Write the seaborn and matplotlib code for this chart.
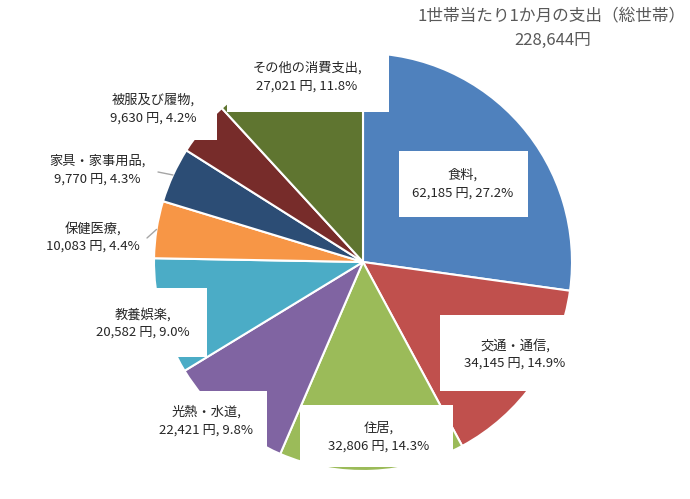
import matplotlib
matplotlib.use("Agg")
import matplotlib.pyplot as plt
from matplotlib.patches import Rectangle
import numpy as np
import seaborn as sns

# ---- data ----
categories = ["食料", "交通・通信", "住居", "光熱・水道", "教養娯楽",
              "保健医療", "家具・家事用品", "被服及び履物", "その他の消費支出"]
values = [62185, 34145, 32806, 22421, 20582, 10083, 9770, 9630, 27021]
total_label = "228,644円"
title_text = "1世帯当たり1か月の支出（総世帯）"
colors = ["#4F81BD", "#C0504D", "#9BBB59", "#8064A2", "#4BACC6",
          "#F79646", "#2C4D75", "#772C2A", "#5F7530"]

sns.set_theme(style="white")
plt.rcParams["font.family"] = ["Noto Sans CJK JP", "DejaVu Sans"]

W, H = 690, 499
fig = plt.figure(figsize=(6.9, 4.99), dpi=100)
ax = fig.add_axes([0, 0, 1, 1])

cx, cy, R = 363, H - 262, 209
wedges, _ = ax.pie(values, colors=sns.color_palette(colors), startangle=90,
                   counterclock=False, center=(cx, cy), radius=R,
                   wedgeprops=dict(edgecolor="white", linewidth=1.5))
ax.set_xlim(0, W)
ax.set_ylim(0, H)
ax.set_aspect("auto")
ax.axis("off")

total = sum(values)
labels = [f"{c},\n{v:,} 円, {v / total * 100:.1f}%" for c, v in zip(categories, values)]

# layout (pixel coords from top-left): box (x0, y0, x1, y1) or None, text center
layout = {
    "食料": ((399, 151, 528, 217), (463, 184)),
    "交通・通信": ((440, 315, 590, 391), (515, 354)),
    "住居": ((300, 405, 453, 467), (379, 437)),
    "光熱・水道": ((143, 391, 267, 452), (206, 421)),
    "教養娯楽": ((80, 288, 207, 357), (143, 323)),
    "保健医療": (None, (93, 237)),
    "家具・家事用品": (None, (97, 170)),
    "被服及び履物": ((89, 85, 217, 140), (153, 109)),
    "その他の消費支出": ((227, 45, 389, 112), (307, 77)),
}
leader_start = {"保健医療": (147, 238), "家具・家事用品": (158, 172)}

for w, cat, lab in zip(wedges, categories, labels):
    box, (tx, ty) = layout[cat]
    if box is not None:
        x0, y0, x1, y1 = box
        ax.add_patch(Rectangle((x0, H - y1), x1 - x0, y1 - y0,
                               facecolor="white", edgecolor="none", zorder=3))
    ax.text(tx, H - ty, lab, ha="center", va="center", fontsize=9.5,
            color="#262626", linespacing=1.45, zorder=4)
    if cat in leader_start:
        mid = np.deg2rad((w.theta1 + w.theta2) / 2)
        ex, ey = cx + R * np.cos(mid), cy + R * np.sin(mid)
        sx, sy = leader_start[cat]
        ax.plot([sx, ex], [H - sy, ey], color="#A6A6A6", lw=1, zorder=2)

ax.text(552, H - 16, title_text, ha="center", va="center", fontsize=12, color="#595959")
ax.text(553, H - 40, total_label, ha="center", va="center", fontsize=12, color="#595959")

fig.savefig("out.png", dpi=100)
